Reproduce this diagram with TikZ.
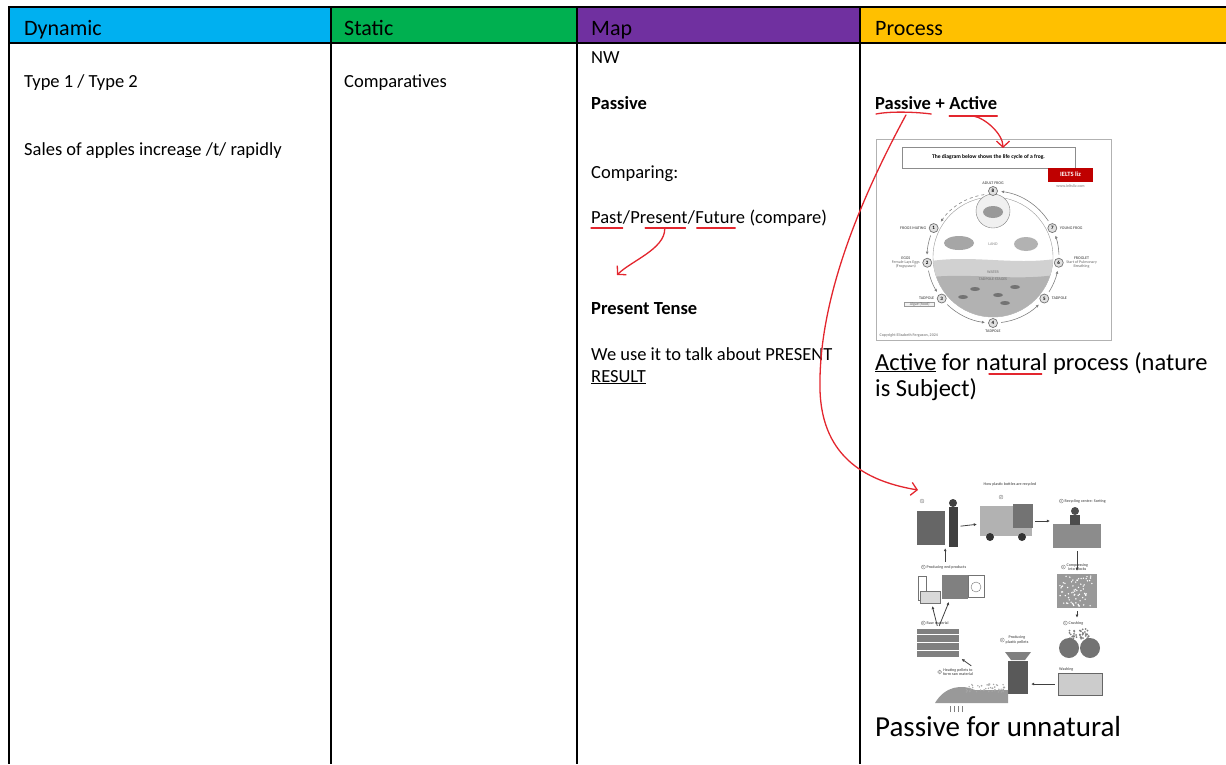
\documentclass[tikz,border=0pt]{standalone}
\usepackage{fontspec}
\setmainfont{Carlito}
\usetikzlibrary{arrows.meta, positioning, calc}

\definecolor{dyncol}{HTML}{00B0F0}
\definecolor{statcol}{HTML}{00B050}
\definecolor{mapcol}{HTML}{7030A0}
\definecolor{proccol}{HTML}{FFC000}
\definecolor{inkred}{HTML}{E3262E}

\tikzset{
  grid/.style={line width=2pt},
  head/.style={anchor=base west, inner sep=0pt, font=\fontsize{22}{26}\selectfont},
  body/.style={anchor=base west, inner sep=0pt, font=\fontsize{18.5}{22}\selectfont},
  bodyb/.style={anchor=base west, inner sep=0pt, font=\fontsize{18.5}{22}\selectfont\bfseries},
  big/.style={anchor=base west, inner sep=0pt, font=\fontsize{24.5}{29}\selectfont},
  bigger/.style={anchor=base west, inner sep=0pt, font=\fontsize{29}{34}\selectfont},
  ink/.style={draw=inkred, line width=1.3pt, line cap=round},
  inkhead/.style={-{Straight Barb[length=6pt,width=13pt]}},
  tiny/.style={inner sep=0.5pt, align=center, font=\fontsize{4}{4.6}\selectfont\bfseries, text=black!60},
  num/.style={circle, draw=black!55, line width=0.3pt, inner sep=0.4pt, font=\fontsize{3.5}{3.5}\selectfont, text=black!65},
  stage/.style={circle, draw=black!55, fill=black!12, line width=0.7pt, minimum size=9pt, inner sep=0pt, font=\fontsize{5}{5}\selectfont\bfseries},
  ringarr/.style={black!50, line width=0.6pt, -{Latex[length=3pt,width=3pt]}},
  blk/.style={inner sep=0pt},
  parrow/.style={black!75, line width=0.8pt, -{Latex[length=3pt,width=3pt]}, shorten >=3pt, shorten <=3pt},
}

\begin{document}
\begin{tikzpicture}[x=1pt, y=-1pt]
\useasboundingbox (0,0) rectangle (1226,764);
\pgfmathsetseed{7}

% Header row
\fill[dyncol] (9,7) rectangle (331,43);
\fill[statcol] (331,7) rectangle (577,43);
\fill[mapcol] (577,7) rectangle (860,43);
\fill[proccol] (860,7) rectangle (1226,43);
\node[head] (hdyn) at (24,35) {Dynamic};
\node[head] (hstat) at (344,35) {Static};
\node[head] (hmap) at (591,35) {Map};
\node[head] (hproc) at (875,35) {Process};

% Grid
\draw[grid] (1226,7) -- (9,7) -- (9,764);
\draw[grid] (9,43) -- (1226,43);
\foreach \x in {331,577,860} \draw[grid] (\x,7) -- (\x,764);

% Dynamic
\node[body] (types) at (24,87) {Type 1 / Type 2};
\node[body] (sales) at (24,155) {Sales of apples increa\underline{s}e /t/ rapidly};

% Static
\node[body] (comp) at (344,87) {Comparatives};

% Map
\node[body] (nw) at (591,63) {NW};
\node[bodyb] (mpass) at (591,109) {Passive};
\node[body] (cmpg) at (591,178) {Comparing:};
\node[body] (past) at (591,223) {Past};
\node[body] (sl1) at (past.base east) {/};
\node[body] (pres) at (sl1.base east) {Present};
\node[body] (sl2) at (pres.base east) {/};
\node[body] (fut) at (sl2.base east) {Future};
\node[body] (cpar) at (fut.base east) {\ (compare)};
\node[bodyb] (ptense) at (591,314) {Present Tense};
\node[body] (use) at (591,360) {We use it to talk about PRESENT};
\node[body] (res) at (591,382) {\underline{RESULT}};

\draw[ink] ([yshift=-5pt]past.base west) -- ([yshift=-5pt]past.base east);
\draw[ink] ($([yshift=-5pt]pres.base west)!0.26!([yshift=-5pt]pres.base east)$) -- ($([yshift=-5pt]pres.base west)!0.96!([yshift=-5pt]pres.base east)$);
\draw[ink] ($([yshift=-5pt]fut.base west)!0.03!([yshift=-5pt]fut.base east)$) -- ($([yshift=-5pt]fut.base west)!0.8!([yshift=-5pt]fut.base east)$);
\coordinate (presu) at ($([yshift=-6pt]pres.base west)!0.6!([yshift=-6pt]pres.base east)$);
\coordinate (ptip) at (617,275);
\draw[ink, inkhead] (presu) .. controls +(0,20) and +(14,-14) .. (ptip);

% Process
\node[bodyb] (ppass) at (875,109) {Passive};
\node[bodyb] (pplus) at (ppass.base east) {\ +\ \null};
\node[bodyb] (pact) at (pplus.base east) {Active};
\node[big] (nat) at (875,370) {\underline{Active} for n};
\node[big] (atura) at (nat.base east) {atura};
\node[big] (proc) at (atura.base east) {l process (nature};
\node[big] (subj) at (875,396) {is Subject)};
\node[bigger] (unnat) at (875,736) {Passive for unnatural};
\draw[ink] ([yshift=-4pt]atura.base west) -- ([yshift=-4pt]atura.base east);

% Frog life cycle picture
\node[draw=black!30, line width=0.8pt, minimum width=235pt, minimum height=201pt, inner sep=0pt] (frog) at (993.5,239.5) {};
\node[draw=black!45, line width=0.6pt, minimum width=173pt, minimum height=21pt, inner sep=0pt, font=\fontsize{5.6}{6}\selectfont\bfseries] (ftitle) at (988.5,157.5) {The diagram below shows the life cycle of a frog.};
\node[fill=red!75!black, text=white, inner sep=0pt, minimum width=45pt, minimum height=14pt, font=\fontsize{6.5}{7}\selectfont\bfseries] (ielts) at (1070.5,174.5) {IELTS liz};
\node[tiny, text=black!40, below=2pt of ielts] (www) {www.ieltsliz.com};
\node[tiny, text=black!45, anchor=west] (copy) at (879,335) {Copyright Elizabeth Ferguson, 2024};
\begin{scope}[shift={(993,257)}, y=1pt]
  \draw[black!40, fill=white] (0,0) circle (60);
  \begin{scope}
    \clip (0,0) circle (60);
    \fill[black!18] (-62,-4) .. controls (-20,2) and (20,-8) .. (62,-2) -- (62,-62) -- (-62,-62) -- cycle;
    \fill[black!30] (-62,-20) .. controls (-20,-16) and (20,-24) .. (62,-18) -- (62,-62) -- (-62,-62) -- cycle;
  \end{scope}
  \fill[black!35] (-34,14) ellipse (15 and 7);
  \fill[black!30] (33,13) ellipse (12 and 7);
  \draw[black!50, fill=black!6] (0,46) circle (17);
  \fill[black!40] (0,45) ellipse (10 and 6);
  \foreach \tx/\ty in {-18/-32,5/-38,22/-30,-30/-40,12/-46} \fill[black!55] (\tx,\ty) ellipse (5 and 2);
  \node[tiny, text=black!35] (land) at (0,13) {LAND};
  \node[tiny, text=black!45] (water) at (0,-15) {WATER};
  \node[tiny, text=black!50] (tstage) at (0,-22) {TADPOLE STAGES};
  \foreach \a/\b in {154/185,185/219,219/270,270/321,321/355,355/386,386/450}
    \draw[ringarr] ({\a+7}:66) arc[start angle=\a+7, end angle=\b-7, radius=66];
  \draw[ringarr, dashed] (98:63) arc[start angle=98, end angle=146, radius=63];
  \foreach \n/\a in {1/154,2/185,3/219,4/270,5/321,6/355,7/26,8/90}
    \node[stage] (st\n) at (\a:66) {\n};
  \node[tiny, above=1pt of st8] (adult) {ADULT FROG};
  \node[tiny, left=2pt of st1] (mating) {FROGS MATING};
  \node[tiny, left=2pt of st2] (eggs) {EGGS\\[-0.5pt]{\mdseries Female Lays Eggs}\\[-0.5pt]{\mdseries (Frogspawn)}};
  \node[tiny, left=2pt of st3] (tad3) {TADPOLE};
  \node[draw=black!40, fill=black!5, tiny, minimum width=30pt, below=1pt of tad3.south east, anchor=north east] (algae) {\mdseries Algae (food)};
  \node[tiny, below=1pt of st4] (tad4) {TADPOLE};
  \node[tiny, right=2pt of st5] (tad5) {TADPOLE};
  \node[tiny, right=2pt of st6] (froglet) {FROGLET\\[-0.5pt]{\mdseries Start of Pulmonary}\\[-0.5pt]{\mdseries Breathing}};
  \node[tiny, right=2pt of st7] (young) {YOUNG FROG};
\end{scope}

% Plastic bottle recycling picture
\node[tiny] (ptitle) at (1010,484) {How plastic bottles are recycled};
\node[num] (n1) at (922,501) {1};
\node[num] (n2) at (1001,497) {2};
\node[blk, fill=black!60, minimum width=28pt, minimum height=34pt] (bin) at (931,528) {};
\node[blk, fill=black!75, minimum width=9pt, minimum height=40pt] (walker) at (953,527) {};
\fill[black!75] (953,503) circle (4);
\node[blk, fill=black!30, minimum width=52pt, minimum height=30pt] (truck) at (1006,521) {};
\fill[black!55] (1013,504) rectangle (1033,528);
\fill[black!80] (990,537) circle (4) (1022,537) circle (4);
\node[tiny, anchor=west] (l3) at (1064,501) {Recycling centre: Sorting};
\node[num, left=0.5pt of l3] (n3) {3};
\node[blk, fill=black!45, minimum width=48pt, minimum height=24pt] (sort) at (1077,536) {};
\fill[black!70] (1075,511) circle (4);
\fill[black!70] (1070,515) rectangle (1080,525);
\node[tiny, anchor=west] (l4) at (1066,567) {Compressing\\into blocks};
\node[num, left=0.5pt of l4] (n4) {4};
\node[blk, fill=black!40, minimum width=40pt, minimum height=34pt] (block) at (1077,591) {};
\foreach \i in {1,...,70} {
    \pgfmathsetmacro{\rx}{1077+rand*18}
    \pgfmathsetmacro{\ry}{591+rand*15}
    \fill[white] (\rx,\ry) circle (0.8);
}
\node[tiny, anchor=west] (l5) at (1068,623) {Crushing};
\node[num, left=0.5pt of l5] (n5) {5};
\foreach \i in {1,...,40} {
    \pgfmathsetmacro{\rx}{1079+rand*10}
    \pgfmathsetmacro{\ry}{634+rand*5}
    \fill[black!50] (\rx,\ry) circle (1);
}
\node[blk, circle, fill=black!55, minimum size=20pt] (roll1) at (1069,648) {};
\node[blk, circle, fill=black!55, minimum size=20pt] (roll2) at (1090,648) {};
\node[blk, draw=black!60, fill=black!20, minimum width=44pt, minimum height=22pt] (tank) at (1080,684) {};
\node[tiny, anchor=east] (wash) at (1074,669) {Washing};
\node[tiny] (l6) at (1017,640) {Producing\\plastic pellets};
\node[num, left=0.5pt of l6] (n6) {6};
\fill[black!50] (1005,652) -- (1031,652) -- (1025,660) -- (1011,660) -- cycle;
\node[blk, fill=black!65, minimum width=20pt, minimum height=33pt] (mach) at (1018,677) {};
\node[tiny] (l7) at (958,672) {Heating pellets to\\form raw material};
\node[num, left=0.5pt of l7] (n7) {7};
\fill[black!40] (935,703) .. controls (945,686) and (962,684) .. (975,690) -- (1008,690) -- (1008,703) -- cycle;
\foreach \i in {1,...,50} {
    \pgfmathsetmacro{\rx}{985+rand*20}
    \pgfmathsetmacro{\ry}{688+rand*4}
    \fill[black!35] (\rx,\ry) circle (0.8);
}
\foreach \hx in {950,954,958,962} \draw[black!50, line width=0.5pt] (\hx,712) -- (\hx,706);
\node[tiny, anchor=west] (l8) at (926,623) {Raw material};
\node[num, left=0.5pt of l8] (n8) {8};
\node[blk, fill=black!50, minimum width=42pt, minimum height=28pt] (raw) at (938,643) {};
\foreach \sy in {634,642,650} \draw[white, line width=0.6pt] (917,\sy) -- (959,\sy);
\node[tiny, anchor=west] (l9) at (926,567) {Producing end products};
\node[num, left=0.5pt of l9] (n9) {9};
\node[blk, draw=black!55, fill=white, minimum width=8pt, minimum height=24pt] (bottle) at (922,588) {};
\node[blk, draw=black!55, fill=black!15, minimum width=20pt, minimum height=12pt] (boxes) at (930,597) {};
\node[blk, fill=black!50, minimum width=26pt, minimum height=24pt] (shirt) at (955,587) {};
\node[blk, draw=black!55, fill=white, minimum width=16pt, minimum height=22pt] (washer) at (976,586) {};
\draw[black!55] (976,587) circle (5);
\draw[parrow] (walker) -- (truck);
\draw[parrow] (truck.east) -- (sort.west |- truck.east);
\draw[parrow] (sort) -- (block);
\draw[parrow] (block.south) -- (l5.north -| block.south);
\draw[parrow] (tank.west) -- (mach.east |- tank.west);
\draw[parrow] (l7.north east) -- (raw.south east);
\draw[parrow] (raw.north) -- (boxes);
\draw[parrow] (raw.north) -- (shirt);
\draw[parrow] (bin.south east |- l9.north) -- (bin.south east);

% Red notes
\draw[ink] (ppass.base west) ++(1,5) .. controls +(15,-3) and +(-15,-2) .. ([shift={(0,5)}]ppass.base east);
\draw[ink] ([shift={(0,7)}]pact.base west) -- ([shift={(0,7)}]pact.base east);
\coordinate (pactu) at ($([yshift=-7pt]pact.base west)!0.5!([yshift=-7pt]pact.base east)$);
\coordinate (ftip) at (1003,148);
\draw[ink, inkhead] (pactu) .. controls +(12,2) and +(0,-14) .. (ftip);
\coordinate (ppassu) at ($([yshift=-6pt]ppass.base west)!0.55!([yshift=-6pt]ppass.base east)$);
\coordinate (plast) at (918,490);
\draw[ink, inkhead] (ppassu) .. controls (860,200) and (818,300) .. (820,390) .. controls (822,460) and (870,482) .. (plast);
\end{tikzpicture}
\end{document}
